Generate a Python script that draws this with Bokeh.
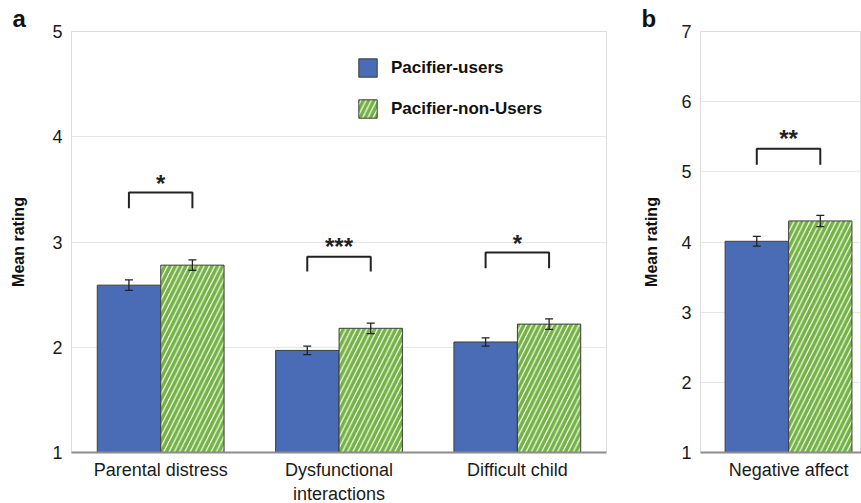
from bokeh.plotting import figure
from bokeh.models import (ColumnDataSource, Whisker, TeeHead, Legend, LegendItem,
                          FixedTicker, Range1d)
from bokeh.layouts import row
from bokeh.core.properties import value
from bokeh.embed import file_html
from bokeh.resources import INLINE

# ---- data: panel a ----
categories_a = ["Parental distress", "Dysfunctional\ninteractions", "Difficult child"]
users_a = [2.59, 1.97, 2.05]
users_a_err = [0.05, 0.04, 0.04]
nonusers_a = [2.78, 2.18, 2.22]
nonusers_a_err = [0.05, 0.05, 0.05]
stars_a = ["*", "***", "*"]
bracket_top_a = [3.47, 2.86, 2.90]
bracket_leg_a = [3.32, 2.72, 2.75]
star_y_a = [3.56, 2.96, 2.99]
yticks_a = [1, 2, 3, 4, 5]

# ---- data: panel b ----
categories_b = ["Negative affect"]
users_b = [4.01]
users_b_err = [0.07]
nonusers_b = [4.30]
nonusers_b_err = [0.08]
stars_b = ["**"]
bracket_top_b = [5.33]
bracket_leg_b = [5.10]
star_y_b = [5.47]
yticks_b = [1, 2, 3, 4, 5, 6, 7]

series_names = ["Pacifier-users", "Pacifier-non-Users"]

FONT = "Liberation Sans"
BLUE = "#4a6bb6"
GREEN = "#74b244"
EDGE = "#3c3c3c"
OFF = 0.178
BW = 0.355
PX_PER_UNIT = 535 / 3
FRAME_H = 421


def panel(cats, users, uerr, non, nerr, stars, btop, bleg, sy, yticks,
          x_range, min_left, min_right, letter, label_standoff, legend=False):
    fw = int(round((x_range.end - x_range.start) * PX_PER_UNIT))
    p = figure(frame_width=fw, frame_height=FRAME_H, x_range=x_range,
               y_range=Range1d(yticks[0], yticks[-1]), title=letter,
               output_backend="svg", toolbar_location=None,
               min_border_left=min_left, min_border_right=min_right,
               min_border_top=31, min_border_bottom=51)
    p.background_fill_color = "white"
    p.border_fill_color = "white"
    p.outline_line_color = "#dcdcdc"
    p.outline_line_width = 1

    # panel letter as title
    p.title.align = "left"
    p.title.offset = -59
    p.title.standoff = 0
    p.title.text_font = FONT
    p.title.text_font_style = "bold"
    p.title.text_font_size = "24px"
    p.title.text_color = "#111111"

    xs = list(range(len(cats)))
    src_u = ColumnDataSource(dict(x=[i - OFF for i in xs], top=users,
                                  upper=[v + e for v, e in zip(users, uerr)],
                                  lower=[v - e for v, e in zip(users, uerr)]))
    src_n = ColumnDataSource(dict(x=[i + OFF for i in xs], top=non,
                                  upper=[v + e for v, e in zip(non, nerr)],
                                  lower=[v - e for v, e in zip(non, nerr)]))
    base = yticks[0]
    r1 = p.vbar(x="x", top="top", bottom=base, width=BW, source=src_u,
                fill_color=BLUE, line_color=EDGE, line_width=1)
    r2 = p.vbar(x="x", top="top", bottom=base, width=BW, source=src_n,
                fill_color="white", line_color=EDGE, line_width=1,
                hatch_pattern="/", hatch_color=GREEN, hatch_scale=10.5, hatch_weight=3.6)

    for s in (src_u, src_n):
        w = Whisker(base="x", upper="upper", lower="lower", source=s,
                    line_color="#222222", line_width=1.3,
                    upper_head=TeeHead(size=8, line_color="#222222", line_width=1.3),
                    lower_head=TeeHead(size=8, line_color="#222222", line_width=1.3))
        w.level = "annotation"
        p.add_layout(w)

    # significance brackets
    bx = [[i - OFF, i - OFF, i + OFF, i + OFF] for i in xs]
    by = [[l, t, t, l] for t, l in zip(btop, bleg)]
    p.multi_line(xs=bx, ys=by, line_color="#222222", line_width=2)
    p.text(x=xs, y=sy, text=stars, text_align="center", text_baseline="middle",
           text_font=value(FONT), text_font_style="bold", text_font_size="24px",
           text_color="#222222")

    # axes
    p.yaxis.ticker = FixedTicker(ticks=yticks)
    p.ygrid.ticker = FixedTicker(ticks=yticks)
    p.ygrid.grid_line_color = "#e6e6e6"
    p.xgrid.grid_line_color = None
    p.xaxis.ticker = FixedTicker(ticks=xs)
    p.xaxis.major_label_overrides = {i: c for i, c in zip(xs, cats)}
    for ax in (p.xaxis, p.yaxis):
        ax.major_tick_line_color = None
        ax.minor_tick_line_color = None
        ax.major_tick_out = 0
        ax.major_tick_in = 0
        ax.major_label_text_font = FONT
        ax.major_label_text_color = "#1a1a1a"
    p.xaxis.major_label_text_font_size = "18px"
    p.yaxis.major_label_text_font_size = "18px"
    p.xaxis.axis_line_color = "#8c8c8c"
    p.xaxis.axis_line_width = 2
    p.xaxis.major_label_standoff = 7
    p.yaxis.axis_line_color = None
    p.yaxis.major_label_standoff = 9
    p.yaxis.axis_label = "Mean rating"
    p.yaxis.axis_label_text_font = FONT
    p.yaxis.axis_label_text_font_style = "bold"
    p.yaxis.axis_label_text_font_size = "16px"
    p.yaxis.axis_label_text_color = "#111111"
    p.yaxis.axis_label_standoff = label_standoff

    if legend:
        lg = Legend(items=[LegendItem(label=series_names[0], renderers=[r1]),
                           LegendItem(label=series_names[1], renderers=[r2])],
                    location=(285, FRAME_H - 25 - 64), glyph_width=23, glyph_height=23,
                    label_height=23, label_standoff=12, spacing=18, padding=0, margin=0,
                    border_line_alpha=0, background_fill_alpha=0,
                    label_text_font=FONT, label_text_font_style="bold",
                    label_text_font_size="17px", label_text_color="#111111")
        p.add_layout(lg)
    return p


xr_a = Range1d(-0.5, 2.5)
pa = panel(categories_a, users_a, users_a_err, nonusers_a, nonusers_a_err, stars_a,
           bracket_top_a, bracket_leg_a, star_y_a, yticks_a, xr_a, 71, 14, "a", 22, legend=True)

xr_b = Range1d(-0.4935, 0.409)
pb = panel(categories_b, users_b, users_b_err, nonusers_b, nonusers_b_err, stars_b,
           bracket_top_b, bracket_leg_b, star_y_b, yticks_b, xr_b, 80, 0, "b", 18)

layout = row(pa, pb, spacing=0)
open("out.html", "w").write(file_html(layout, INLINE))
